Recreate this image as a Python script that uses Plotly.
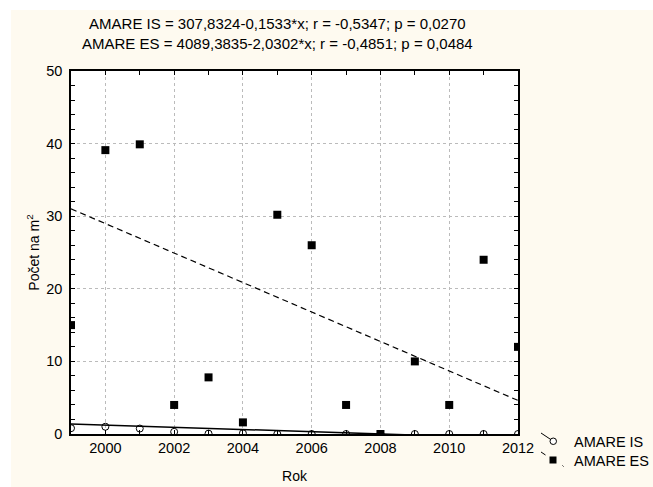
import plotly.graph_objects as go

years = [1999, 2000, 2001, 2002, 2003, 2004, 2005, 2006, 2007, 2008, 2009, 2010, 2011, 2012]
amare_is = [0.8, 1.0, 0.75, 0.3, 0.05, 0.1, 0.0, 0.0, 0.0, 0.0, 0.0, 0.0, 0.0, 0.0]
amare_es = [15.0, 39.1, 39.9, 4.0, 7.8, 1.6, 30.2, 26.0, 4.0, 0.0, 10.0, 4.0, 24.0, 12.0]

# regression coefficients as printed in the chart header
is_intercept, is_slope = 307.8324, -0.1533
es_intercept, es_slope = 4089.3835, -2.0302
fit_x = [1999, 2012]

title_lines = [
    "AMARE IS = 307,8324-0,1533*x; r = -0,5347; p = 0,0270",
    "AMARE ES = 4089,3835-2,0302*x; r = -0,4851; p = 0,0484",
]
series_names = ["AMARE IS", "AMARE ES"]
x_ticks = [2000, 2002, 2004, 2006, 2008, 2010, 2012]
y_ticks = [0, 10, 20, 30, 40, 50]

FONT = "Liberation Sans, Arial, sans-serif"
CREAM = "#FEFAF0"

W, H = 653, 487
ML, MR, MT, MB = 71, 135, 71, 53
PW, PH = W - ML - MR, H - MT - MB


def px(x):
    """screen x pixel -> paper coordinate"""
    return (x - ML) / PW


def py(y):
    """screen y pixel -> paper coordinate"""
    return (H - MB - y) / PH


fig = go.Figure()

fig.add_trace(go.Scatter(
    x=fit_x, y=[is_intercept + is_slope * x for x in fit_x],
    mode="lines", line=dict(color="black", width=1.5), showlegend=False, hoverinfo="skip"))
fig.add_trace(go.Scatter(
    x=fit_x, y=[es_intercept + es_slope * x for x in fit_x],
    mode="lines", line=dict(color="black", width=1.2, dash="6px,4px"), showlegend=False, hoverinfo="skip"))

fig.add_trace(go.Scatter(
    x=years, y=amare_is, mode="markers", name=series_names[0], showlegend=False,
    marker=dict(symbol="circle-open", size=7, color="black", line=dict(width=1))))
fig.add_trace(go.Scatter(
    x=years, y=amare_es, mode="markers", name=series_names[1], showlegend=False,
    marker=dict(symbol="square", size=8, color="black")))

shapes = [
    # white outer border of the picture
    dict(type="rect", xref="paper", yref="paper", x0=px(0), x1=px(W), y0=py(0), y1=py(10),
         fillcolor="white", line=dict(width=0), layer="below"),
    dict(type="rect", xref="paper", yref="paper", x0=px(0), x1=px(11), y0=py(0), y1=py(H),
         fillcolor="white", line=dict(width=0), layer="below"),
    # legend samples
    dict(type="line", xref="paper", yref="paper", x0=px(541), y0=py(433), x1=px(556), y1=py(443),
         line=dict(color="black", width=1)),
    dict(type="circle", xref="paper", yref="paper", x0=px(550), y0=py(438), x1=px(556.5), y1=py(444.5),
         fillcolor="white", line=dict(color="black", width=1)),
    dict(type="line", xref="paper", yref="paper", x0=px(541), y0=py(452), x1=px(545.5), y1=py(455),
         line=dict(color="black", width=1)),
    dict(type="rect", xref="paper", yref="paper", x0=px(549.5), y0=py(456.5), x1=px(556.5), y1=py(463.5),
         fillcolor="black", line=dict(color="black", width=0)),
    dict(type="line", xref="paper", yref="paper", x0=px(562.5), y0=py(465.5), x1=px(563.5), y1=py(466.5),
         line=dict(color="black", width=1)),
]

annotations = [
    dict(text=title_lines[0] + "<br>" + title_lines[1], x=px(277), y=1.0, xref="paper", yref="paper",
         xanchor="center", yanchor="bottom", yshift=17, showarrow=False,
         font=dict(size=15, family=FONT), align="center"),
    dict(text=series_names[0], x=px(572), y=py(442), xref="paper", yref="paper",
         xanchor="left", yanchor="middle", showarrow=False, font=dict(size=14.5, family=FONT)),
    dict(text=series_names[1], x=px(572), y=py(461), xref="paper", yref="paper",
         xanchor="left", yanchor="middle", showarrow=False, font=dict(size=14.5, family=FONT)),
]

fig.update_layout(
    width=W, height=H,
    margin=dict(l=ML, r=MR, t=MT, b=MB, autoexpand=False),
    paper_bgcolor=CREAM,
    plot_bgcolor="white",
    font=dict(family=FONT, size=14, color="black"),
    showlegend=False,
    hovermode=False,
    shapes=shapes,
    annotations=annotations,
)

fig.update_xaxes(
    range=[1999, 2012], tickvals=x_ticks, ticktext=[str(v) for v in x_ticks],
    showgrid=True, gridcolor="#BBBBBB", griddash="dot", gridwidth=1,
    showline=True, linecolor="black", linewidth=1.5, mirror="ticks",
    ticks="inside", ticklen=4, tickcolor="black", automargin=False,
    minor=dict(dtick=1, ticks="inside", ticklen=4, tickcolor="black", showgrid=False),
    tickfont=dict(size=14.5), zeroline=False,
    title=dict(text="Rok", font=dict(size=14), standoff=16),
)
fig.update_yaxes(
    range=[0, 50], tickvals=y_ticks,
    showgrid=True, gridcolor="#BBBBBB", griddash="dot", gridwidth=1,
    showline=True, linecolor="black", linewidth=1.5, mirror="ticks",
    ticks="inside", ticklen=4, tickcolor="black", ticklabelstandoff=4, automargin=False,
    minor=dict(dtick=2, ticks="inside", ticklen=4, tickcolor="black", showgrid=False),
    tickfont=dict(size=14.5), zeroline=False,
    title=dict(text="Počet na m<sup>2</sup>", font=dict(size=14), standoff=3),
)

fig.write_html("out.html", config={"displayModeBar": False},
               post_script="document.body.style.margin='0px';")
